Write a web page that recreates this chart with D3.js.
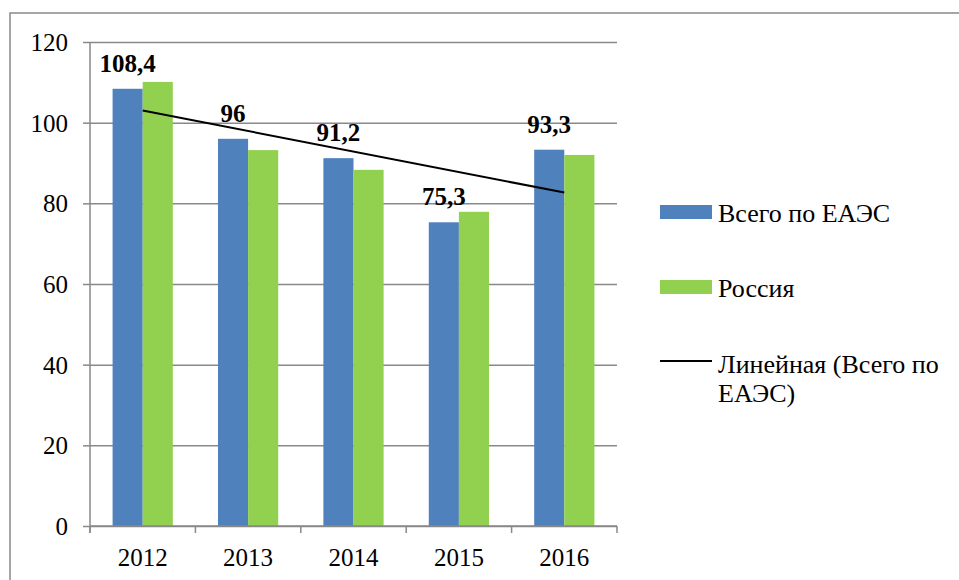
<!DOCTYPE html>
<html>
<head>
<meta charset="utf-8">
<script src="https://cdn.jsdelivr.net/npm/d3@7"></script>
<style>
    body { margin: 0; background: #fff; }
    svg text { font-family: "Liberation Serif", "Times New Roman", serif; fill: #000; }
</style>
</head>
<body>
<div id="chart"></div>
<script>
// data
const years = ['2012', '2013', '2014', '2015', '2016']
const eaesValues = [108.4, 96, 91.2, 75.3, 93.3]
const russiaValues = [110.1, 93.2, 88.3, 77.9, 92.0]
const seriesNames = ['Всего по ЕАЭС', 'Россия']
const trendName = ['Линейная (Всего по', 'ЕАЭС)']
const yTicks = [0, 20, 40, 60, 80, 100, 120]

const width = 959,
    height = 580
const plot = { left: 90, right: 617, top: 42, bottom: 526 }
const colors = ['#4f81bd', '#92d050']
const gridColor = '#898989'
const serif = '"Liberation Serif", "Times New Roman", serif'

const svg = d3.select('#chart')
    .append('svg')
    .attr('width', width)
    .attr('height', height)
    .style('font-family', serif)

// outer chart frame (right and bottom edges fall outside the picture)
svg.append('rect')
    .attr('x', 10)
    .attr('y', 13)
    .attr('width', 980)
    .attr('height', 600)
    .attr('fill', 'none')
    .attr('stroke', gridColor)
    .attr('stroke-width', 1.5)

const x = d3.scaleBand()
    .domain(years)
    .range([plot.left, plot.right])

const y = d3.scaleLinear()
    .domain([0, 120])
    .range([plot.bottom, plot.top])

// gap width 150% like in the office chart
const gap = x.bandwidth() * 1.5 / 3.5
const x1 = d3.scaleBand()
    .domain([0, 1])
    .range([gap / 2, x.bandwidth() - gap / 2])

// horizontal grid + y axis
const yAxis = svg.append('g')
    .attr('transform', `translate(${plot.left},0)`)
    .call(d3.axisLeft(y).tickValues(yTicks).tickSize(7).tickPadding(15))
yAxis.attr('font-family', null).attr('font-size', null)
yAxis.select('.domain').remove()
yAxis.selectAll('.tick line')
    .attr('stroke', gridColor)
    .attr('stroke-width', 1.5)
    .attr('x2', 0)
    .attr('x1', -7)
yAxis.selectAll('.tick')
    .append('line')
    .attr('x1', 0)
    .attr('x2', plot.right - plot.left)
    .attr('stroke', gridColor)
    .attr('stroke-width', 1.5)
yAxis.selectAll('.tick text')
    .style('font-family', serif)
    .style('font-size', '25px')
    .attr('dy', '0.34em')

svg.append('line')
    .attr('x1', plot.left)
    .attr('x2', plot.left)
    .attr('y1', plot.top)
    .attr('y2', plot.bottom + 7)
    .attr('stroke', gridColor)
    .attr('stroke-width', 1.5)

// bars
const rows = years.map((yr, i) => ({ year: yr, values: [eaesValues[i], russiaValues[i]] }))

const groups = svg.selectAll('.group')
    .data(rows)
    .enter()
    .append('g')
    .attr('transform', d => `translate(${x(d.year)},0)`)

groups.selectAll('rect')
    .data(d => d.values.map((v, k) => ({ v, k })))
    .enter()
    .append('rect')
    .attr('x', d => x1(d.k))
    .attr('width', x1.bandwidth())
    .attr('y', d => y(d.v))
    .attr('height', d => y(0) - y(d.v))
    .attr('fill', d => colors[d.k])

// x axis with ticks between categories
const xAxisG = svg.append('g')
    .attr('transform', `translate(0,${plot.bottom})`)
xAxisG.append('line')
    .attr('x1', plot.left)
    .attr('x2', plot.right)
    .attr('stroke', gridColor)
    .attr('stroke-width', 1.5)
const bounds = years.map(yr => x(yr)).concat([plot.right])
xAxisG.selectAll('.xtick')
    .data(bounds)
    .enter()
    .append('line')
    .attr('x1', d => d)
    .attr('x2', d => d)
    .attr('y1', 0)
    .attr('y2', 7)
    .attr('stroke', gridColor)
    .attr('stroke-width', 1.5)
xAxisG.selectAll('.xlabel')
    .data(years)
    .enter()
    .append('text')
    .attr('x', d => x(d) + x.bandwidth() / 2)
    .attr('y', 40)
    .attr('text-anchor', 'middle')
    .style('font-size', '25px')
    .text(d => d)

// linear trend of the first series (least squares)
const n = eaesValues.length
const xs = eaesValues.map((v, i) => i + 1)
const mx = d3.mean(xs), my = d3.mean(eaesValues)
const slope = d3.sum(xs.map((xi, i) => (xi - mx) * (eaesValues[i] - my))) / d3.sum(xs.map(xi => (xi - mx) ** 2))
const icpt = my - slope * mx
const trend = [1, n].map(xi => ({ year: years[xi - 1], v: icpt + slope * xi }))

svg.append('path')
    .datum(trend)
    .attr('d', d3.line().x(d => x(d.year) + x.bandwidth() / 2).y(d => y(d.v)))
    .attr('stroke', '#000')
    .attr('stroke-width', 2)
    .attr('fill', 'none')

// value labels above the first series
svg.selectAll('.vlabel')
    .data(rows)
    .enter()
    .append('text')
    .attr('x', d => x(d.year) + x1(0) + x1.bandwidth() / 2)
    .attr('y', d => y(d.values[0]) - 17)
    .attr('text-anchor', 'middle')
    .style('font-size', '25px')
    .style('font-weight', 'bold')
    .text(d => String(d.values[0]).replace('.', ','))

// legend
const legend = svg.append('g').attr('transform', 'translate(660,0)')
seriesNames.forEach((name, i) => {
    const ly = [212, 287][i]
    legend.append('rect')
        .attr('x', 0)
        .attr('y', ly - 7)
        .attr('width', 52)
        .attr('height', 14)
        .attr('fill', colors[i])
    legend.append('text')
        .attr('x', 58)
        .attr('y', ly + 10)
        .style('font-size', '26px')
        .text(name)
})
legend.append('line')
    .attr('x1', 0)
    .attr('x2', 52)
    .attr('y1', 361)
    .attr('y2', 361)
    .attr('stroke', '#000')
    .attr('stroke-width', 2)
legend.selectAll('.trendtxt')
    .data(trendName)
    .enter()
    .append('text')
    .attr('x', 58)
    .attr('y', (d, i) => 373 + i * 29)
    .style('font-size', '26px')
    .text(d => d)
</script>
</body>
</html>
